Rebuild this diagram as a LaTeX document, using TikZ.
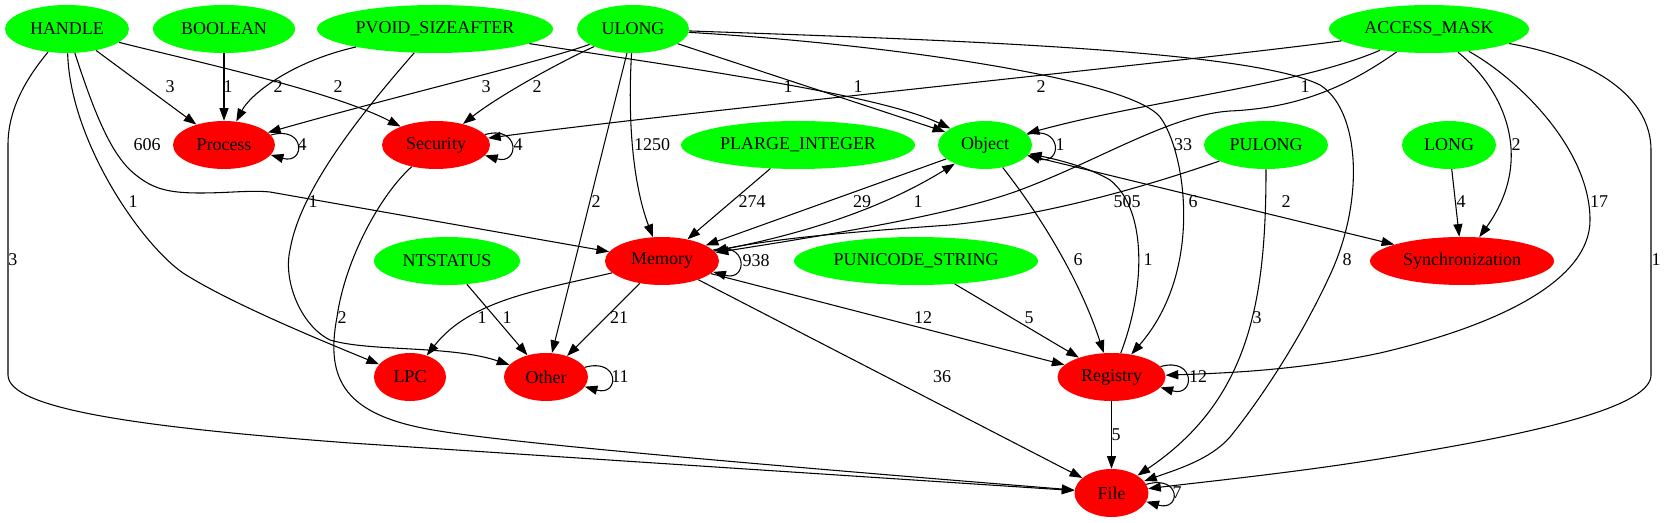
\documentclass[tikz,border=0pt]{standalone}
\usepackage{fontspec}
\setmainfont{Liberation Serif}
\usetikzlibrary{arrows.meta,shapes.geometric}
\definecolor{gvgreen}{RGB}{0,255,0}
\definecolor{gvred}{RGB}{255,0,0}
\begin{document}
\begin{tikzpicture}[x=0.75pt,y=-0.75pt,
  nd/.style={ellipse, inner sep=0pt, minimum height=36pt, font=\fontsize{13.5}{16}\selectfont},
  src/.style={nd, fill=gvgreen},
  dst/.style={nd, fill=gvred},
  edge/.style={draw=black, line width=0.8pt, -{Triangle[length=9.5pt,width=6.8pt]}},
  lbl/.style={font=\fontsize{13.5}{16}\selectfont, inner sep=0pt}
]
\fill[white] (0,0) rectangle (1666,523);
\useasboundingbox (0,0) rectangle (1666,523);

% nodes
\node[src, minimum width=93pt]    (HANDLE)   at (67,29)   {HANDLE};
\node[src, minimum width=106.5pt] (BOOLEAN)  at (224,29)  {BOOLEAN};
\node[src, minimum width=177pt]   (PVOID)    at (435,29)  {PVOID\_SIZEAFTER};
\node[src, minimum width=84pt]    (ULONG)    at (633,29)  {ULONG};
\node[src, minimum width=150pt]   (ACCESS)   at (1429,29) {ACCESS\_MASK};
\node[dst, minimum width=76.5pt]  (Process)  at (224,145) {Process};
\node[dst, minimum width=81pt]    (Security) at (436,145) {Security};
\node[src, minimum width=175.5pt] (PLARGE)   at (798,145) {PLARGE\_INTEGER};
\node[src, minimum width=70.5pt]  (Object)   at (985,145) {Object};
\node[src, minimum width=93pt]    (PULONG)   at (1266,145) {PULONG};
\node[src, minimum width=70.5pt]  (LONG)     at (1449,145) {LONG};
\node[src, minimum width=109.5pt] (NTSTATUS) at (447,261) {NTSTATUS};
\node[dst, minimum width=85.5pt]  (Memory)   at (662,261) {Memory};
\node[src, minimum width=183pt]   (PUNICODE) at (916,261) {PUNICODE\_STRING};
\node[dst, minimum width=138pt]   (Sync)     at (1462,261) {Synchronization};
\node[dst, minimum width=54pt]    (LPC)      at (410,377) {LPC};
\node[dst, minimum width=63pt]    (Other)    at (546,377) {Other};
\node[dst, minimum width=81pt]    (Registry) at (1111.5,377) {Registry};
\node[dst, minimum width=55.5pt]  (File)     at (1111.5,493) {File};

% edges from HANDLE
\draw[edge] (HANDLE) -- (Process) node[lbl] at (170,87) {3};
\draw[edge] (HANDLE) .. controls (180,58) and (330,90) .. (Security) node[lbl] at (338,87) {2};
\draw[edge] (HANDLE) .. controls (95,115) and (110,150) .. (130,170)
  .. controls (150,188) and (165,193) .. (200,193)
  .. controls (230,193) and (250,190) .. (270,192) -- (Memory) node[lbl] at (147,145) {606};
\draw[edge] (HANDLE) .. controls (70,140) and (140,243) .. (183,273)
  .. controls (230,303) and (320,340) .. (LPC) node[lbl] at (133,202) {1};
\draw[edge] (HANDLE) .. controls (25,80) and (8,110) .. (8,145) -- (8,375)
  .. controls (8,410) and (150,428) .. (350,443) -- (File) node[lbl] at (13,260) {3};

% BOOLEAN, PVOID
\draw[edge] (BOOLEAN) -- (Process) node[lbl] at (228,87) {1};
\draw[edge] (PVOID) .. controls (290,62) and (250,95) .. (Process) node[lbl] at (278,87) {2};
\draw[edge] (PVOID) .. controls (700,70) and (880,95) .. (Object) node[lbl] at (788,87) {1};
\draw[edge] (PVOID) .. controls (360,115) and (300,190) .. (290,250)
  .. controls (283,280) and (300,325) .. (330,340)
  .. controls (370,352) and (450,345) .. (Other) node[lbl] at (313,202) {1};

% ULONG
\draw[edge] (ULONG) .. controls (540,62) and (400,95) .. (Process) node[lbl] at (486,87) {3};
\draw[edge] (ULONG) .. controls (560,62) and (500,95) .. (Security) node[lbl] at (537,87) {2};
\draw[edge] (ULONG) -- (Object) node[lbl] at (858,87) {1};
\draw[edge] (ULONG) .. controls (627,130) and (635,190) .. (Memory) node[lbl] at (652,145) {1250};
\draw[edge] (ULONG) -- (Other) node[lbl] at (596,202) {2};
\draw[edge] (ULONG) .. controls (900,45) and (1130,80) .. (1160,117)
  .. controls (1185,150) and (1205,270) .. (Registry) node[lbl] at (1193,202) {6};
\draw[edge] (ULONG) .. controls (950,40) and (1250,50) .. (1320,85)
  .. controls (1360,110) and (1365,200) .. (1330,275)
  .. controls (1300,340) and (1260,400) .. (1230,437)
  .. controls (1210,460) and (1175,470) .. (File) node[lbl] at (1347,260) {8};

% ACCESS_MASK
\draw[edge] (ACCESS) .. controls (1200,60) and (700,110) .. (Security) node[lbl] at (1041,87) {2};
\draw[edge] (ACCESS) .. controls (1300,85) and (1150,100) .. (Object) node[lbl] at (1305,87) {1};
\draw[edge] (ACCESS) .. controls (1350,85) and (1300,108) .. (1230,111)
  .. controls (1170,115) and (1100,160) .. (1020,190)
  .. controls (960,212) and (860,230) .. (Memory) node[lbl] at (1183,145) {33};
\draw[edge] (ACCESS) .. controls (1505,90) and (1535,160) .. (Sync) node[lbl] at (1516,145) {2};
\draw[edge] (ACCESS) .. controls (1520,80) and (1590,150) .. (1590,220)
  .. controls (1590,280) and (1500,325) .. (1380,353)
  .. controls (1300,370) and (1230,373) .. (Registry) node[lbl] at (1599,202) {17};
\draw[edge] (ACCESS) .. controls (1600,60) and (1651,100) .. (1651,150) -- (1651,375)
  .. controls (1651,405) and (1550,430) .. (1420,452)
  .. controls (1320,470) and (1220,480) .. (File) node[lbl] at (1656,260) {1};

% rank 2 sources / nodes
\draw[edge] (PLARGE) -- (Memory) node[lbl] at (752,202) {274};
\draw[edge] (Object) -- (Memory) node[lbl] at (862,202) {29};
\draw[edge] (Memory) .. controls (800,235) and (880,210) .. (Object) node[lbl] at (918,202) {1};
\draw[edge] (PULONG) .. controls (1150,185) and (1050,215) .. (950,225)
  .. controls (850,232) and (780,238) .. (Memory) node[lbl] at (1127,202) {505};
\draw[edge] (Object) -- (Sync) node[lbl] at (1286,202) {2};
\draw[edge] (LONG) -- (Sync) node[lbl] at (1461,202) {4};
\draw[edge] (Object) .. controls (1040,215) and (1080,280) .. (Registry) node[lbl] at (1078,260) {6};
\draw[edge] (Registry) .. controls (1145,290) and (1148,210) .. (1110,180)
  .. controls (1090,168) and (1060,160) .. (Object) node[lbl] at (1148,260) {1};
\draw[edge] (Security) .. controls (380,195) and (345,260) .. (337,317)
  .. controls (325,380) and (345,415) .. (433,430)
  .. controls (480,438) and (600,452) .. (File) node[lbl] at (342,318) {2};
\draw[edge] (PULONG) .. controls (1266,300) and (1250,400) .. (File) node[lbl] at (1257,318) {3};

% rank 4
\draw[edge] (Memory) .. controls (540,290) and (470,300) .. (LPC) node[lbl] at (482,318) {1};
\draw[edge] (NTSTATUS) -- (Other) node[lbl] at (507,318) {1};
\draw[edge] (Memory) -- (Other) node[lbl] at (619,318) {21};
\draw[edge] (Memory) -- (Registry) node[lbl] at (923,318) {12};
\draw[edge] (PUNICODE) -- (Registry) node[lbl] at (1029,318) {5};
\draw[edge] (Memory) -- (File) node[lbl] at (942,377) {36};
\draw[edge] (Registry) -- (File) node[lbl] at (1116,435) {5};

% self loops
\draw[edge] (Process.12) .. controls +(35,-10) and +(35,10) .. (Process.-12) node[lbl] at (302,145) {4};
\draw[edge] (Security.12) .. controls +(35,-10) and +(35,10) .. (Security.-12) node[lbl] at (518,145) {4};
\draw[edge] (Object.14) .. controls +(35,-10) and +(35,10) .. (Object.-14) node[lbl] at (1060,145) {1};
\draw[edge] (Memory.12) .. controls +(35,-10) and +(35,10) .. (Memory.-12) node[lbl] at (756,261) {938};
\draw[edge] (Other.14) .. controls +(35,-10) and +(35,10) .. (Other.-14) node[lbl] at (620,377) {11};
\draw[edge] (Registry.12) .. controls +(35,-10) and +(35,10) .. (Registry.-12) node[lbl] at (1198,377) {12};
\draw[edge] (File.14) .. controls +(35,-10) and +(35,10) .. (File.-14) node[lbl] at (1177,493) {7};
\end{tikzpicture}
\end{document}
